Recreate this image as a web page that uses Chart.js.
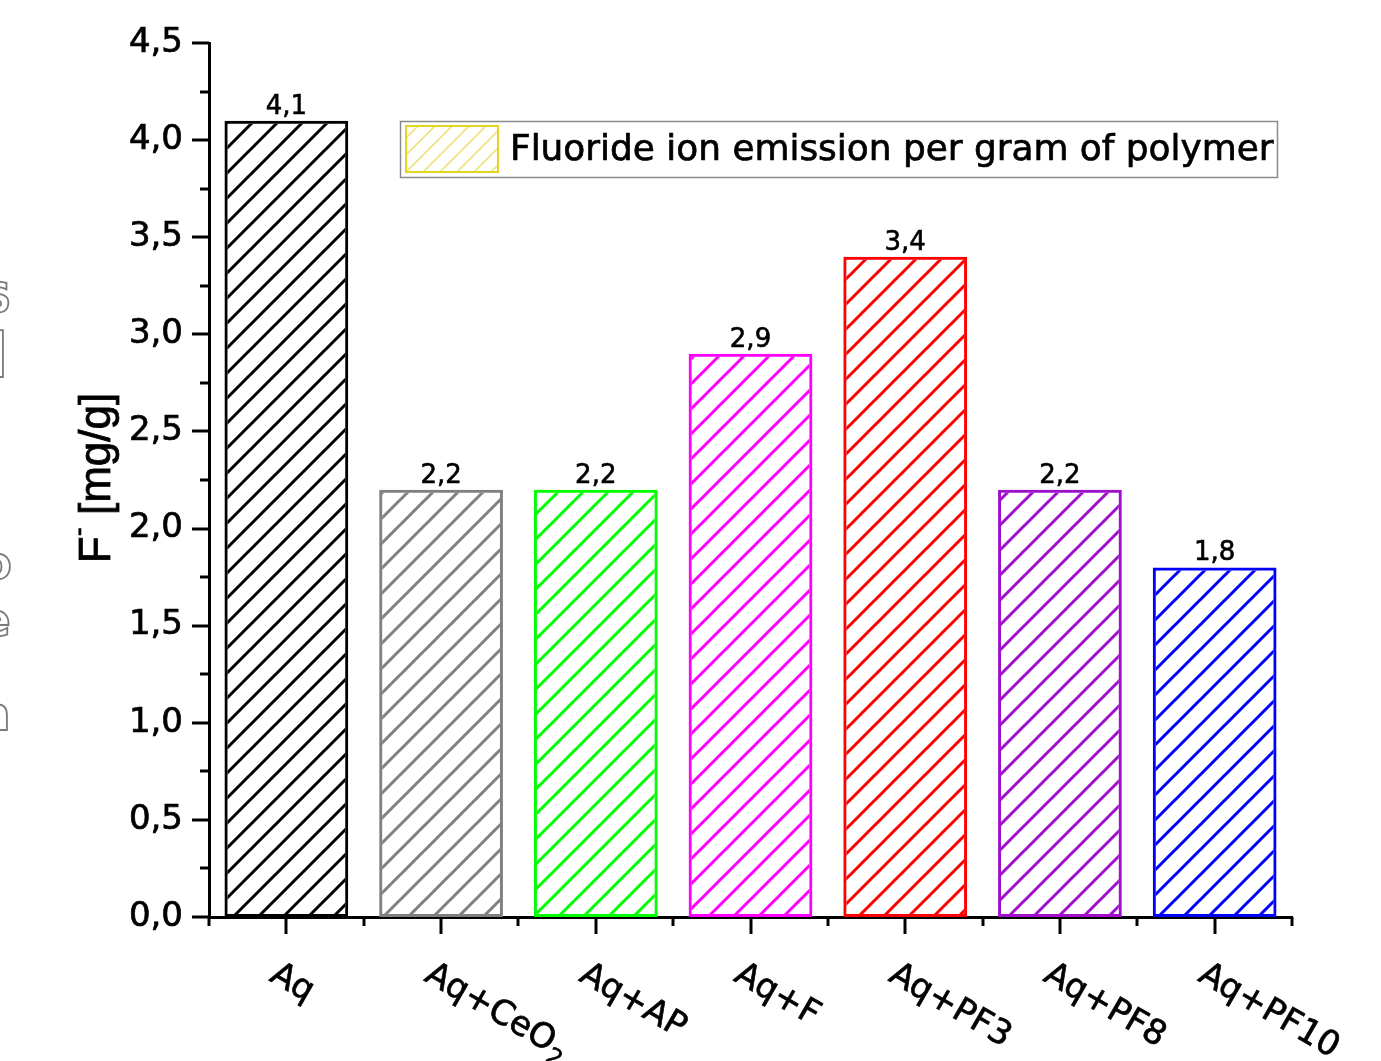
<!DOCTYPE html>
<html>
<head>
<meta charset="utf-8">
<script src="https://cdn.jsdelivr.net/npm/chart.js@4/dist/chart.umd.min.js"></script>
<style>
  html, body { margin: 0; padding: 0; background: #ffffff; }
  #wrap { width: 1381px; height: 1061px; position: relative; }
</style>
</head>
<body>
<div id="wrap"><canvas id="c" width="1381" height="1061"></canvas></div>
<script>
// ---- data ----
const categories = ['Aq', 'Aq+CeO2', 'Aq+AP', 'Aq+F', 'Aq+PF3', 'Aq+PF8', 'Aq+PF10'];
const values = [4.1, 2.2, 2.2, 2.9, 3.4, 2.2, 1.8];
const valueLabels = ['4,1', '2,2', '2,2', '2,9', '3,4', '2,2', '1,8'];
const yTickValues = [0, 0.5, 1.0, 1.5, 2.0, 2.5, 3.0, 3.5, 4.0, 4.5];
const yTickLabels = ['0,0', '0,5', '1,0', '1,5', '2,0', '2,5', '3,0', '3,5', '4,0', '4,5'];
const seriesLabel = 'Fluoride ion emission per gram of polymer';

// ---- styles ----
const barColors = ['#000000', '#808080', '#00FF00', '#FF00FF', '#FF0000', '#A010CC', '#0000FF'];
const FONT = '"DejaVu Sans", "Liberation Sans", Arial, sans-serif';
const FONT_T = '"Liberation Sans", Arial, sans-serif';

function makeHatch(color, spacing, lw) {
  const t = document.createElement('canvas');
  t.width = spacing; t.height = spacing;
  const g = t.getContext('2d');
  g.strokeStyle = color;
  g.lineWidth = lw;
  g.lineCap = 'square';
  g.beginPath();
  for (let k = -1; k <= 1; k++) {
    g.moveTo(k * spacing, spacing);
    g.lineTo(k * spacing + spacing, 0);
  }
  g.stroke();
  return document.getElementById('c').getContext('2d').createPattern(t, 'repeat');
}

const patterns = barColors.map(c => makeHatch(c, 25, 3));
const legendPattern = makeHatch('#EEE27C', 17, 1.6);

// heavier text: fill + thin stroke of the same colour
function heavyText(ctx, s, x, y, w) {
  ctx.fillText(s, x, y);
  ctx.lineWidth = w;
  ctx.strokeText(s, x, y);
}

// ---- plugins ----
const customAxes = {
  id: 'customAxes',
  afterDraw(chart) {
    const ctx = chart.ctx;
    const xs = chart.scales.x, ys = chart.scales.y;
    const left = chart.chartArea.left, bottom = chart.chartArea.bottom;
    ctx.save();
    ctx.strokeStyle = '#000';
    ctx.fillStyle = '#000';
    ctx.lineWidth = 3;
    ctx.lineCap = 'butt';
    // y ticks (major + minor)
    for (let i = 0; i <= 18; i++) {
      const v = i * 0.25;
      const py = Math.round(ys.getPixelForValue(v));
      const len = (i % 2 === 0) ? 17 : 9;
      ctx.beginPath();
      ctx.moveTo(left - len, py);
      ctx.lineTo(left, py);
      ctx.stroke();
    }
    // y tick labels
    ctx.font = '34px ' + FONT;
    ctx.textAlign = 'right';
    ctx.textBaseline = 'middle';
    yTickValues.forEach((v, i) => {
      heavyText(ctx, yTickLabels[i], left - 26, ys.getPixelForValue(v), 0.7);
    });
    // x ticks: major at centers, minor at boundaries
    ctx.lineWidth = 3;
    for (let i = 0; i < categories.length; i++) {
      const px = Math.round(xs.getPixelForValue(i));
      ctx.beginPath();
      ctx.moveTo(px, bottom);
      ctx.lineTo(px, bottom + 17);
      ctx.stroke();
    }
    for (let i = 0; i <= categories.length; i++) {
      const px = Math.round(xs.getPixelForValue(i - 0.5));
      ctx.beginPath();
      ctx.moveTo(px, bottom);
      ctx.lineTo(px, bottom + 9);
      ctx.stroke();
    }
    // x category labels, rotated 30 deg clockwise
    ctx.textAlign = 'left';
    ctx.textBaseline = 'alphabetic';
    for (let i = 0; i < categories.length; i++) {
      const px = xs.getPixelForValue(i);
      ctx.save();
      ctx.translate(px - 18, bottom + 63);
      ctx.rotate(Math.PI / 6);
      const lab = categories[i];
      ctx.font = '34px ' + FONT;
      if (lab === 'Aq+CeO2') {
        const main = 'Aq+CeO';
        heavyText(ctx, main, 0, 0, 0.7);
        const w = ctx.measureText(main).width;
        ctx.font = '23px ' + FONT;
        heavyText(ctx, '2', w + 1, 9, 0.6);
      } else {
        heavyText(ctx, lab, 0, 0, 0.7);
      }
      ctx.restore();
    }
    // y axis title
    ctx.save();
    ctx.translate(110, 478);
    ctx.rotate(-Math.PI / 2);
    const pF = 'F';
    const pRest = ' [mg/g]';
    ctx.font = '44px ' + FONT_T;
    const wF = ctx.measureText(pF).width;
    const wR = ctx.measureText(pRest).width;
    ctx.font = '27px ' + FONT_T;
    const wM = ctx.measureText('-').width;
    const total = wF + wM + wR;
    const x0 = -total / 2;
    ctx.font = '44px ' + FONT_T;
    heavyText(ctx, pF, x0, 0, 0.8);
    ctx.font = '27px ' + FONT_T;
    heavyText(ctx, '-', x0 + wF, -23, 0.6);
    ctx.font = '44px ' + FONT_T;
    heavyText(ctx, pRest, x0 + wF + wM, 0, 0.8);
    ctx.restore();

    // legend
    ctx.save();
    ctx.fillStyle = '#fff';
    ctx.fillRect(400, 121, 877, 57);
    ctx.strokeStyle = '#8a8a8a';
    ctx.lineWidth = 1.5;
    ctx.strokeRect(400.5, 121.5, 877, 56);
    ctx.fillStyle = legendPattern;
    ctx.fillRect(406, 126, 92, 46);
    ctx.strokeStyle = '#E6D51E';
    ctx.lineWidth = 2;
    ctx.strokeRect(406, 126, 92, 46);
    ctx.fillStyle = '#000';
    ctx.strokeStyle = '#000';
    ctx.font = '35.9px ' + FONT;
    ctx.textAlign = 'left';
    ctx.textBaseline = 'middle';
    heavyText(ctx, chart.data.datasets[0].label, 510, 151, 0.7);
    ctx.restore();

    // outlined glyph fragments cut by the left edge
    ctx.save();
    ctx.strokeStyle = '#7a7a7a';
    ctx.lineWidth = 1.8;
    ctx.textAlign = 'center';
    ctx.textBaseline = 'alphabetic';
    ctx.font = 'bold 40px ' + FONT;
    ctx.strokeText('S', -3, 312);
    ctx.font = 'bold 64px ' + FONT;
    ctx.strokeText('I', -3, 377);
    ctx.font = 'bold 46px ' + FONT;
    ctx.strokeText('o', -4, 579);
    ctx.strokeText('e', -5, 636);
    ctx.strokeText('n', -6, 730);
    ctx.restore();
    ctx.restore();
  },
  afterDatasetsDraw(chart) {
    const ctx = chart.ctx;
    const meta = chart.getDatasetMeta(0);
    ctx.save();
    ctx.fillStyle = '#000';
    ctx.strokeStyle = '#000';
    ctx.font = '26px ' + FONT;
    ctx.textAlign = 'center';
    ctx.textBaseline = 'alphabetic';
    meta.data.forEach((bar, i) => {
      heavyText(ctx, valueLabels[i], bar.x, bar.y - 7, 0.6);
    });
    ctx.restore();
  }
};

new Chart(document.getElementById('c'), {
  type: 'bar',
  data: {
    labels: categories,
    datasets: [{
      label: seriesLabel,
      data: values,
      backgroundColor: patterns,
      borderColor: barColors,
      borderWidth: 3,
      borderSkipped: false,
      barPercentage: 0.8,
      categoryPercentage: 1.0
    }]
  },
  options: {
    responsive: false,
    animation: false,
    devicePixelRatio: 1,
    layout: { padding: { top: 43, right: 89, left: 0, bottom: 0 } },
    plugins: { legend: { display: false }, tooltip: { enabled: false } },
    scales: {
      x: {
        offset: true,
        ticks: { display: false },
        grid: { display: false, drawTicks: false },
        border: { display: true, color: '#000', width: 3 },
        afterFit(scale) { scale.height = 144; }
      },
      y: {
        min: 0,
        max: 4.5,
        afterBuildTicks(scale) { scale.ticks = yTickValues.map(v => ({ value: v })); },
        ticks: { display: false },
        grid: { display: false, drawTicks: false },
        border: { display: true, color: '#000', width: 3 },
        afterFit(scale) { scale.width = 209; }
      }
    }
  },
  plugins: [customAxes]
});
</script>
</body>
</html>
